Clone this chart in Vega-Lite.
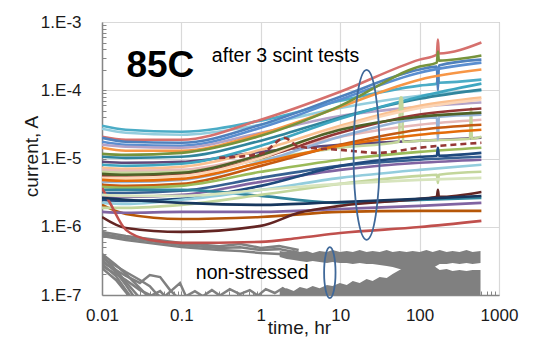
{
"$schema":"https://vega.github.io/schema/vega-lite/v6.json",
"width":397,"height":273,
"autosize":{"type":"none"},
"padding":{"left":102,"top":22,"right":39,"bottom":57},
"background":"white",
"config":{"font":"Liberation Sans","view":{"stroke":"#a6a6a6","strokeWidth":1},
"axis":{"labelFont":"Liberation Sans","titleFont":"Liberation Sans","labelColor":"#1a1a1a","titleColor":"#1a1a1a","labelFontSize":17,"titleFontSize":19,"titleFontWeight":"normal","gridColor":"#d9d9d9","gridWidth":1.2,"domainColor":"#868686","tickColor":"#868686"}},
"resolve":{"axis":{"x":"independent","y":"independent"}},
"datasets":{
"band":[
{"t":1.73,"ut":4.42e-7,"ub":3.6e-7,"lt":1.18e-7},
{"t":2.12,"ut":4.27e-7,"ub":3.37e-7,"lt":1.26e-7},
{"t":2.6,"ut":4.56e-7,"ub":3.25e-7,"lt":1.14e-7},
{"t":3.1,"ut":4.27e-7,"ub":3.15e-7,"lt":1.31e-7},
{"t":3.8,"ut":4.42e-7,"ub":3.04e-7,"lt":1.23e-7},
{"t":4.5,"ut":4.12e-7,"ub":3.15e-7,"lt":1.35e-7},
{"t":5.5,"ut":4.42e-7,"ub":3.04e-7,"lt":1.26e-7},
{"t":6.8,"ut":4.27e-7,"ub":2.94e-7,"lt":1.4e-7},
{"t":8.0,"ut":4.56e-7,"ub":3.04e-7,"lt":1.35e-7},
{"t":9.9,"ut":4.27e-7,"ub":2.94e-7,"lt":1.5e-7},
{"t":12.1,"ut":4.42e-7,"ub":2.94e-7,"lt":1.4e-7},
{"t":14.4,"ut":4.27e-7,"ub":2.84e-7,"lt":1.6e-7},
{"t":17.6,"ut":4.56e-7,"ub":2.94e-7,"lt":1.5e-7},
{"t":21.5,"ut":4.27e-7,"ub":2.84e-7,"lt":1.71e-7},
{"t":25.6,"ut":4.42e-7,"ub":2.84e-7,"lt":1.6e-7},
{"t":31.4,"ut":4.27e-7,"ub":2.75e-7,"lt":1.83e-7},
{"t":38.5,"ut":4.56e-7,"ub":2.66e-7,"lt":1.77e-7},
{"t":45.7,"ut":4.27e-7,"ub":2.57e-7,"lt":2.03e-7},
{"t":56,"ut":4.42e-7,"ub":2.4e-7,"lt":2.32e-7},
{"t":68.6,"ut":4.27e-7,"ub":2.32e-7,"lt":2.66e-7},
{"t":81.7,"ut":4.42e-7,"ub":2.32e-7,"lt":2.84e-7},
{"t":100,"ut":4.27e-7,"ub":2.32e-7,"lt":2.84e-7},
{"t":122,"ut":4.56e-7,"ub":2.4e-7,"lt":2.94e-7},
{"t":146,"ut":4.27e-7,"ub":2.48e-7,"lt":2.75e-7},
{"t":179,"ut":4.56e-7,"ub":2.84e-7,"lt":2.32e-7},
{"t":219,"ut":4.27e-7,"ub":2.84e-7,"lt":2.4e-7},
{"t":260,"ut":4.42e-7,"ub":2.94e-7,"lt":2.24e-7},
{"t":318,"ut":4.27e-7,"ub":2.84e-7,"lt":2.32e-7},
{"t":390,"ut":4.56e-7,"ub":2.94e-7,"lt":2.24e-7},
{"t":464,"ut":4.27e-7,"ub":2.84e-7,"lt":2.32e-7},
{"t":585,"ut":4.42e-7,"ub":2.94e-7,"lt":2.32e-7}
],
"gray":[
{"s":"g1","t":0.01,"v":8.4e-7},{"s":"g1","t":0.02,"v":7.3e-7},{"s":"g1","t":0.1,"v":5.8e-7},{"s":"g1","t":0.3,"v":5.2e-7},{"s":"g1","t":0.55,"v":5.6e-7},{"s":"g1","t":1,"v":4.9e-7},{"s":"g1","t":1.7,"v":5.2e-7},{"s":"g1","t":3,"v":4.56e-7},
{"s":"g2","t":0.01,"v":7.8e-7},{"s":"g2","t":0.02,"v":6.85e-7},{"s":"g2","t":0.1,"v":5.4e-7},{"s":"g2","t":0.3,"v":4.9e-7},{"s":"g2","t":0.55,"v":5.0e-7},{"s":"g2","t":1,"v":4.56e-7},{"s":"g2","t":1.7,"v":4.7e-7},{"s":"g2","t":3,"v":4.12e-7},
{"s":"g3","t":0.01,"v":7.3e-7},{"s":"g3","t":0.02,"v":6.4e-7},{"s":"g3","t":0.1,"v":5.05e-7},{"s":"g3","t":0.3,"v":4.56e-7},{"s":"g3","t":0.55,"v":4.4e-7},{"s":"g3","t":1,"v":4.12e-7},{"s":"g3","t":1.7,"v":4.0e-7},{"s":"g3","t":3,"v":3.48e-7},
{"s":"lg1","t":0.01,"v":4.0e-7},{"s":"lg1","t":0.015,"v":2.75e-7},{"s":"lg1","t":0.02,"v":2.03e-7},{"s":"lg1","t":0.03,"v":1.26e-7},{"s":"lg1","t":0.04,"v":9.0e-8},
{"s":"lg2","t":0.01,"v":3.73e-7},{"s":"lg2","t":0.015,"v":2.32e-7},{"s":"lg2","t":0.02,"v":1.55e-7},{"s":"lg2","t":0.03,"v":9.0e-8},
{"s":"lg3","t":0.01,"v":3.48e-7},{"s":"lg3","t":0.015,"v":2.66e-7},{"s":"lg3","t":0.02,"v":2.17e-7},{"s":"lg3","t":0.03,"v":1.66e-7},{"s":"lg3","t":0.04,"v":1.35e-7},{"s":"lg3","t":0.049,"v":1.03e-7},{"s":"lg3","t":0.062,"v":8.5e-8},
{"s":"lg4","t":0.01,"v":3.25e-7},{"s":"lg4","t":0.015,"v":2.17e-7},{"s":"lg4","t":0.02,"v":1.4e-7},{"s":"lg4","t":0.026,"v":9.0e-8},
{"s":"lg5","t":0.01,"v":3.04e-7},{"s":"lg5","t":0.015,"v":2.32e-7},{"s":"lg5","t":0.02,"v":1.9e-7},{"s":"lg5","t":0.03,"v":1.5e-7},{"s":"lg5","t":0.04,"v":1.96e-7},{"s":"lg5","t":0.054,"v":1.83e-7},{"s":"lg5","t":0.072,"v":1.18e-7},{"s":"lg5","t":0.096,"v":8.5e-8},
{"s":"lg6","t":0.01,"v":2.84e-7},{"s":"lg6","t":0.015,"v":1.9e-7},{"s":"lg6","t":0.02,"v":1.18e-7},{"s":"lg6","t":0.0245,"v":8.5e-8},
{"s":"lg7","t":0.01,"v":2.66e-7},{"s":"lg7","t":0.015,"v":2.03e-7},{"s":"lg7","t":0.02,"v":1.66e-7},{"s":"lg7","t":0.03,"v":1.18e-7},{"s":"lg7","t":0.049,"v":9.0e-8},
{"s":"lg8","t":0.01,"v":2.48e-7},{"s":"lg8","t":0.015,"v":1.66e-7},{"s":"lg8","t":0.02,"v":1.1e-7},{"s":"lg8","t":0.024,"v":8.5e-8},
{"s":"lg9","t":0.04,"v":9.6e-8},{"s":"lg9","t":0.054,"v":1.14e-7},{"s":"lg9","t":0.062,"v":9.6e-8},{"s":"lg9","t":0.076,"v":1.18e-7},{"s":"lg9","t":0.096,"v":1.5e-7},{"s":"lg9","t":0.114,"v":9.6e-8},{"s":"lg9","t":0.148,"v":1.14e-7},{"s":"lg9","t":0.186,"v":9.6e-8},{"s":"lg9","t":0.242,"v":1.18e-7},{"s":"lg9","t":0.305,"v":9.8e-8},{"s":"lg9","t":0.407,"v":1.22e-7},{"s":"lg9","t":0.545,"v":1.03e-7},{"s":"lg9","t":0.727,"v":1.18e-7},{"s":"lg9","t":0.917,"v":9.8e-8},{"s":"lg9","t":1.156,"v":1.22e-7},{"s":"lg9","t":1.5,"v":1.07e-7},{"s":"lg9","t":1.89,"v":1.26e-7},{"s":"lg9","t":2.45,"v":1.03e-7},{"s":"lg9","t":3.16,"v":1.22e-7}
],
"lines":[
{"s":"L1","t":0.01,"v":3.02e-5},{"s":"L1","t":0.02,"v":2.64e-5},{"s":"L1","t":0.1,"v":2.47e-5},{"s":"L1","t":1,"v":3.58e-5},{"s":"L1","t":10,"v":7.0e-5},{"s":"L1","t":100,"v":1.17e-4},{"s":"L1","t":165,"v":1.25e-4},{"s":"L1","t":170,"v":1.64e-4},{"s":"L1","t":175,"v":1.29e-4},{"s":"L1","t":600,"v":1.43e-4},
{"s":"L2","t":0.01,"v":2.73e-5},{"s":"L2","t":0.02,"v":2.38e-5},{"s":"L2","t":0.1,"v":2.23e-5},{"s":"L2","t":1,"v":3.13e-5},{"s":"L2","t":10,"v":5.5e-5},{"s":"L2","t":100,"v":8.3e-5},{"s":"L2","t":600,"v":9.87e-5},
{"s":"L3","t":0.01,"v":2.08e-5},{"s":"L3","t":0.02,"v":1.88e-5},{"s":"L3","t":0.1,"v":1.88e-5},{"s":"L3","t":1,"v":3.7e-5},{"s":"L3","t":10,"v":9.5e-5},{"s":"L3","t":100,"v":2.81e-4},{"s":"L3","t":165,"v":3.33e-4},{"s":"L3","t":170,"v":5.53e-4},{"s":"L3","t":175,"v":3.45e-4},{"s":"L3","t":600,"v":5.0e-4},
{"s":"L4","t":0.01,"v":2.01e-5},{"s":"L4","t":0.02,"v":1.76e-5},{"s":"L4","t":0.1,"v":1.7e-5},{"s":"L4","t":1,"v":3.13e-5},{"s":"L4","t":10,"v":8.05e-5},{"s":"L4","t":100,"v":2.01e-4},{"s":"L4","t":165,"v":2.22e-4},{"s":"L4","t":170,"v":1.0e-4},{"s":"L4","t":175,"v":2.3e-4},{"s":"L4","t":600,"v":2.81e-4},
{"s":"L5","t":0.01,"v":1.76e-5},{"s":"L5","t":0.02,"v":1.59e-5},{"s":"L5","t":0.1,"v":1.54e-5},{"s":"L5","t":1,"v":2.82e-5},{"s":"L5","t":10,"v":7.3e-5},{"s":"L5","t":100,"v":1.81e-4},{"s":"L5","t":600,"v":2.54e-4},
{"s":"L6","t":0.01,"v":1.59e-5},{"s":"L6","t":0.02,"v":1.49e-5},{"s":"L6","t":0.1,"v":1.44e-5},{"s":"L6","t":1,"v":2.38e-5},{"s":"L6","t":10,"v":4.2e-5},{"s":"L6","t":100,"v":5.7e-5},{"s":"L6","t":600,"v":6.6e-5},
{"s":"L7","t":0.01,"v":1.44e-5},{"s":"L7","t":0.02,"v":1.3e-5},{"s":"L7","t":0.1,"v":1.3e-5},{"s":"L7","t":1,"v":2.3e-5},{"s":"L7","t":10,"v":5.7e-5},{"s":"L7","t":100,"v":1.43e-4},{"s":"L7","t":600,"v":2.01e-4},
{"s":"L8","t":0.01,"v":1.17e-5},{"s":"L8","t":0.02,"v":1.13e-5},{"s":"L8","t":0.1,"v":1.21e-5},{"s":"L8","t":1,"v":2.15e-5},{"s":"L8","t":10,"v":5.9e-5},{"s":"L8","t":100,"v":2.22e-4},{"s":"L8","t":165,"v":2.54e-4},{"s":"L8","t":170,"v":3.69e-4},{"s":"L8","t":175,"v":2.72e-4},{"s":"L8","t":600,"v":3.22e-4},
{"s":"L9","t":0.01,"v":1.06e-5},{"s":"L9","t":0.02,"v":1.02e-5},{"s":"L9","t":0.1,"v":1.06e-5},{"s":"L9","t":1,"v":1.82e-5},{"s":"L9","t":10,"v":4.0e-5},{"s":"L9","t":100,"v":7.5e-5},{"s":"L9","t":600,"v":1.02e-4},
{"s":"L10","t":0.01,"v":8.95e-6},{"s":"L10","t":0.02,"v":8.65e-6},{"s":"L10","t":0.1,"v":8.95e-6},{"s":"L10","t":1,"v":1.25e-5},{"s":"L10","t":10,"v":1.59e-5},{"s":"L10","t":100,"v":1.82e-5},{"s":"L10","t":600,"v":2.01e-5},
{"s":"L11","t":0.01,"v":8.08e-6},{"s":"L11","t":0.02,"v":7.8e-6},{"s":"L11","t":0.1,"v":8.36e-6},{"s":"L11","t":1,"v":1.54e-5},{"s":"L11","t":10,"v":3.83e-5},{"s":"L11","t":100,"v":8.05e-5},{"s":"L11","t":600,"v":1.25e-4},
{"s":"L12","t":0.01,"v":7.3e-6},{"s":"L12","t":0.02,"v":7.06e-6},{"s":"L12","t":0.1,"v":7.55e-6},{"s":"L12","t":1,"v":1.34e-5},{"s":"L12","t":10,"v":3.02e-5},{"s":"L12","t":100,"v":5.9e-5},{"s":"L12","t":600,"v":7.8e-5},
{"s":"L13","t":0.01,"v":6.82e-6},{"s":"L13","t":0.02,"v":6.59e-6},{"s":"L13","t":0.1,"v":6.82e-6},{"s":"L13","t":1,"v":1.1e-5},{"s":"L13","t":10,"v":2.08e-5},{"s":"L13","t":100,"v":3.13e-5},{"s":"L13","t":600,"v":3.7e-5},
{"s":"L14","t":0.01,"v":6.38e-6},{"s":"L14","t":0.02,"v":6.17e-6},{"s":"L14","t":0.1,"v":6.38e-6},{"s":"L14","t":1,"v":9.6e-6},{"s":"L14","t":10,"v":1.44e-5},{"s":"L14","t":55,"v":1.76e-5},{"s":"L14","t":57,"v":7.8e-5},{"s":"L14","t":60,"v":7.8e-5},{"s":"L14","t":62,"v":1.76e-5},{"s":"L14","t":100,"v":1.82e-5},{"s":"L14","t":430,"v":1.95e-5},{"s":"L14","t":445,"v":5.5e-5},{"s":"L14","t":455,"v":1.95e-5},{"s":"L14","t":600,"v":2.08e-5},
{"s":"L15","t":0.01,"v":5.57e-6},{"s":"L15","t":0.02,"v":5.38e-6},{"s":"L15","t":0.1,"v":5.77e-6},{"s":"L15","t":1,"v":1.02e-5},{"s":"L15","t":10,"v":2.38e-5},{"s":"L15","t":100,"v":4.4e-5},{"s":"L15","t":600,"v":5.4e-5},
{"s":"L16","t":0.01,"v":5.2e-6},{"s":"L16","t":0.02,"v":5.2e-6},{"s":"L16","t":0.1,"v":5.57e-6},{"s":"L16","t":1,"v":1.02e-5},{"s":"L16","t":10,"v":2.82e-5},{"s":"L16","t":100,"v":5.5e-5},{"s":"L16","t":600,"v":7.3e-5},
{"s":"L17","t":0.01,"v":4.55e-6},{"s":"L17","t":0.02,"v":4.55e-6},{"s":"L17","t":0.1,"v":4.86e-6},{"s":"L17","t":1,"v":8.95e-6},{"s":"L17","t":10,"v":2.08e-5},{"s":"L17","t":100,"v":3.83e-5},{"s":"L17","t":165,"v":4.0e-5},{"s":"L17","t":170,"v":1.88e-5},{"s":"L17","t":175,"v":4.1e-5},{"s":"L17","t":600,"v":4.4e-5},
{"s":"L18","t":0.01,"v":4.11e-6},{"s":"L18","t":0.02,"v":3.97e-6},{"s":"L18","t":0.1,"v":4.25e-6},{"s":"L18","t":1,"v":7.8e-6},{"s":"L18","t":10,"v":1.59e-5},{"s":"L18","t":100,"v":2.64e-5},{"s":"L18","t":600,"v":3.13e-5},
{"s":"L19","t":0.01,"v":3.84e-6},{"s":"L19","t":0.02,"v":3.71e-6},{"s":"L19","t":0.1,"v":3.97e-6},{"s":"L19","t":1,"v":6.38e-6},{"s":"L19","t":10,"v":9.6e-6},{"s":"L19","t":100,"v":1.25e-5},{"s":"L19","t":600,"v":1.44e-5},
{"s":"L20","t":0.01,"v":5.96e-6},{"s":"L20","t":0.02,"v":5.77e-6},{"s":"L20","t":0.1,"v":6.17e-6},{"s":"L20","t":1,"v":1.13e-5},{"s":"L20","t":10,"v":2.64e-5},{"s":"L20","t":100,"v":4.1e-5},{"s":"L20","t":600,"v":4.7e-5},
{"s":"L21","t":0.01,"v":3.13e-6},{"s":"L21","t":0.02,"v":3.13e-6},{"s":"L21","t":0.1,"v":3.36e-6},{"s":"L21","t":1,"v":5.2e-6},{"s":"L21","t":10,"v":7.8e-6},{"s":"L21","t":100,"v":9.6e-6},{"s":"L21","t":600,"v":1.06e-5},
{"s":"L22","t":0.01,"v":2.74e-6},{"s":"L22","t":0.02,"v":2.74e-6},{"s":"L22","t":0.1,"v":2.93e-6},{"s":"L22","t":1,"v":4.55e-6},{"s":"L22","t":10,"v":6.82e-6},{"s":"L22","t":100,"v":8.65e-6},{"s":"L22","t":600,"v":9.6e-6},
{"s":"L23","t":0.01,"v":2.48e-6},{"s":"L23","t":0.02,"v":2.39e-6},{"s":"L23","t":0.1,"v":2.56e-6},{"s":"L23","t":1,"v":3.97e-6},{"s":"L23","t":10,"v":7.8e-6},{"s":"L23","t":100,"v":1.06e-5},{"s":"L23","t":165,"v":1.1e-5},{"s":"L23","t":170,"v":1.44e-5},{"s":"L23","t":175,"v":1.1e-5},{"s":"L23","t":600,"v":1.21e-5},
{"s":"L24","t":0.01,"v":3.47e-6},{"s":"L24","t":0.02,"v":3.47e-6},{"s":"L24","t":0.1,"v":3.47e-6},{"s":"L24","t":1,"v":2.83e-6},{"s":"L24","t":10,"v":2.24e-6},{"s":"L24","t":100,"v":2.48e-6},{"s":"L24","t":600,"v":2.65e-6},
{"s":"L25","t":0.01,"v":2.24e-6},{"s":"L25","t":0.02,"v":2.16e-6},{"s":"L25","t":0.1,"v":2.48e-6},{"s":"L25","t":1,"v":3.47e-6},{"s":"L25","t":10,"v":5.2e-6},{"s":"L25","t":100,"v":6.82e-6},{"s":"L25","t":600,"v":8.08e-6},
{"s":"L26","t":0.01,"v":2.09e-6},{"s":"L26","t":0.02,"v":1.54e-6},{"s":"L26","t":0.1,"v":1.3e-6},{"s":"L26","t":1,"v":1.39e-6},{"s":"L26","t":10,"v":1.65e-6},{"s":"L26","t":100,"v":1.71e-6},{"s":"L26","t":600,"v":1.71e-6},
{"s":"L27","t":0.01,"v":1.89e-6},{"s":"L27","t":0.02,"v":1.89e-6},{"s":"L27","t":0.1,"v":2.09e-6},{"s":"L27","t":1,"v":2.93e-6},{"s":"L27","t":10,"v":4.25e-6},{"s":"L27","t":100,"v":5.57e-6},{"s":"L27","t":165,"v":5.77e-6},{"s":"L27","t":170,"v":4.4e-6},{"s":"L27","t":175,"v":5.77e-6},{"s":"L27","t":600,"v":6.38e-6},
{"s":"L28","t":0.01,"v":1.65e-6},{"s":"L28","t":0.02,"v":1.6e-6},{"s":"L28","t":0.1,"v":1.65e-6},{"s":"L28","t":1,"v":1.65e-6},{"s":"L28","t":10,"v":1.82e-6},{"s":"L28","t":100,"v":2.02e-6},{"s":"L28","t":600,"v":2.24e-6},
{"s":"L29","t":0.01,"v":1.39e-6},{"s":"L29","t":0.02,"v":9.6e-7},{"s":"L29","t":0.1,"v":8.4e-7},{"s":"L29","t":1,"v":1.03e-6},{"s":"L29","t":3,"v":1.6e-6},{"s":"L29","t":10,"v":2.02e-6},{"s":"L29","t":100,"v":2.56e-6},{"s":"L29","t":165,"v":2.74e-6},{"s":"L29","t":170,"v":3.47e-6},{"s":"L29","t":175,"v":2.74e-6},{"s":"L29","t":600,"v":3.24e-6},
{"s":"L30","t":0.01,"v":3.71e-6},{"s":"L30","t":0.013,"v":2.09e-6},{"s":"L30","t":0.02,"v":9.0e-7},{"s":"L30","t":0.04,"v":6.4e-7},{"s":"L30","t":0.1,"v":5.8e-7},{"s":"L30","t":1,"v":6.0e-7},{"s":"L30","t":3,"v":6.85e-7},{"s":"L30","t":10,"v":8.1e-7},{"s":"L30","t":100,"v":9.9e-7},{"s":"L30","t":600,"v":1.22e-6},
{"s":"L31","t":0.01,"v":2.65e-6},{"s":"L31","t":0.02,"v":2.48e-6},{"s":"L31","t":0.1,"v":2.24e-6},{"s":"L31","t":1,"v":2.09e-6},{"s":"L31","t":10,"v":2.31e-6},{"s":"L31","t":100,"v":2.56e-6},{"s":"L31","t":600,"v":2.83e-6},
{"s":"L32","t":0.01,"v":2.93e-6},{"s":"L32","t":0.02,"v":2.83e-6},{"s":"L32","t":0.1,"v":2.83e-6},{"s":"L32","t":1,"v":3.47e-6},{"s":"L32","t":10,"v":4.25e-6},{"s":"L32","t":100,"v":4.86e-6},{"s":"L32","t":600,"v":5.2e-6},
{"s":"L34","t":0.01,"v":4.86e-6},{"s":"L34","t":0.02,"v":4.71e-6},{"s":"L34","t":0.1,"v":5.03e-6},{"s":"L34","t":1,"v":8.65e-6},{"s":"L34","t":10,"v":1.54e-5},{"s":"L34","t":100,"v":2.23e-5},{"s":"L34","t":600,"v":2.64e-5}
],
"dashed":[
{"s":"L33","t":0.3,"v":1.02e-5},{"s":"L33","t":1,"v":1.17e-5},{"s":"L33","t":2,"v":2.0e-5},{"s":"L33","t":3,"v":1.49e-5},{"s":"L33","t":10,"v":1.34e-5},{"s":"L33","t":30,"v":1.21e-5},{"s":"L33","t":100,"v":1.44e-5},{"s":"L33","t":600,"v":1.7e-5}
]
},
"layer":[
{"data":{"name":"band"},"mark":{"type":"area","color":"#808080","clip":true},
 "encoding":{"x":{"field":"t","type":"quantitative","scale":{"type":"log","domain":[0.01,1000]},"axis":null},
  "y":{"field":"ut","type":"quantitative","scale":{"type":"log","domain":[1e-7,1e-3]},"axis":null},
  "y2":{"field":"ub"}}},
{"data":{"name":"band"},"mark":{"type":"area","color":"#808080","clip":true},
 "encoding":{"x":{"field":"t","type":"quantitative","scale":{"type":"log","domain":[0.01,1000]},"axis":null},
  "y":{"field":"lt","type":"quantitative","scale":{"type":"log","domain":[1e-7,1e-3]},"axis":null},
  "y2":{"datum":9e-8}}},
{"data":{"name":"gray"},"mark":{"type":"line","color":"#808080","strokeWidth":2.5,"clip":true},
 "encoding":{"x":{"field":"t","type":"quantitative","scale":{"type":"log","domain":[0.01,1000]},
   "axis":{"orient":"bottom","values":[0.02,0.03,0.04,0.05,0.06,0.07,0.08,0.09,0.1,0.2,0.3,0.4,0.5,0.6,0.7,0.8,0.9,1,2,3,4,5,6,7,8,9,10,20,30,40,50,60,70,80,90,100,200,300,400,500,600,700,800,900],"labels":false,"grid":false,"domain":false,"ticks":true,"tickSize":-4,"title":null}},
  "y":{"field":"v","type":"quantitative","scale":{"type":"log","domain":[1e-7,1e-3]},
   "axis":{"orient":"left","values":[2e-7,3e-7,4e-7,5e-7,6e-7,7e-7,8e-7,9e-7,1e-6,2e-6,3e-6,4e-6,5e-6,6e-6,7e-6,8e-6,9e-6,1e-5,2e-5,3e-5,4e-5,5e-5,6e-5,7e-5,8e-5,9e-5,1e-4,2e-4,3e-4,4e-4,5e-4,6e-4,7e-4,8e-4,9e-4],"labels":false,"grid":false,"domain":false,"ticks":true,"tickSize":-4,"title":null}},
  "detail":{"field":"s"}}},
{"data":{"name":"lines"},"mark":{"type":"line","strokeWidth":2.6,"interpolate":"monotone","clip":true},
 "encoding":{"x":{"field":"t","type":"quantitative","scale":{"type":"log","domain":[0.01,1000]},
   "axis":{"orient":"bottom","values":[0.01,0.1,1,10,100,1000],"format":"~g","grid":true,"ticks":false,"labelPadding":12,"labelFlush":false,"labelOverlap":false,"domainWidth":1.5,"title":"time, hr","titleX":197,"titleY":38,"titleBaseline":"alphabetic"}},
  "y":{"field":"v","type":"quantitative","scale":{"type":"log","domain":[1e-7,1e-3]},
   "axis":{"orient":"left","values":[1e-7,1e-6,1e-5,1e-4,1e-3],"labelExpr":"'1.E-' + round(-log(datum.value)/LN10)","grid":true,"ticks":false,"labelPadding":21,"labelFlush":false,"labelOverlap":false,"domainWidth":1.5,"title":"current, A","titleX":-65,"titleY":134,"titleBaseline":"alphabetic"}},
  "color":{"field":"s","type":"nominal","legend":null,"sort":null,
   "scale":{"domain":["L1","L2","L3","L4","L5","L6","L7","L8","L9","L10","L11","L12","L13","L14","L15","L16","L17","L18","L19","L20","L21","L22","L23","L24","L25","L26","L27","L28","L29","L30","L31","L32","L34"],
   "range":["#4bacc6","#93cddd","#d6706d","#4f81bd","#5a8ed0","#b3a2c7","#f79646","#77933c","#31859c","#5f497a","#3ea6c0","#fac090","#e6b9b8","#c3d69b","#953735","#fcd5b5","#95b3d7","#c55a11","#9bbb59","#4f6228","#376092","#8064a2","#1f497d","#31859c","#93cddd","#b65708","#c3d69b","#8064a2","#632523","#c0504d","#17375e","#d7e4bd","#e46c0a"]}}}},
{"data":{"name":"dashed"},"mark":{"type":"line","strokeWidth":2.6,"color":"#953735","strokeDash":[6,4],"interpolate":"monotone","clip":true},
 "encoding":{"x":{"field":"t","type":"quantitative","scale":{"type":"log","domain":[0.01,1000]},"axis":null},
  "y":{"field":"v","type":"quantitative","scale":{"type":"log","domain":[1e-7,1e-3]},"axis":null}}},
{"data":{"values":[{"label":"85C","t":0.0203,"v":1.58e-4}]},"mark":{"type":"text","font":"Liberation Sans","fontSize":37,"fontWeight":"bold","align":"left","baseline":"alphabetic","color":"#000000"},
 "encoding":{"x":{"field":"t","type":"quantitative","scale":{"type":"log","domain":[0.01,1000]},"axis":null},
  "y":{"field":"v","type":"quantitative","scale":{"type":"log","domain":[1e-7,1e-3]},"axis":null},"text":{"field":"label"}}},
{"data":{"values":[{"label":"after 3 scint tests","t":0.242,"v":2.63e-4},{"label":"non-stressed","t":0.152,"v":1.71e-7}]},"mark":{"type":"text","font":"Liberation Sans","fontSize":19.5,"align":"left","baseline":"alphabetic","color":"#000000"},
 "encoding":{"x":{"field":"t","type":"quantitative","scale":{"type":"log","domain":[0.01,1000]},"axis":null},
  "y":{"field":"v","type":"quantitative","scale":{"type":"log","domain":[1e-7,1e-3]},"axis":null},"text":{"field":"label"}}},
{"data":{"values":[{"t":21.5,"v":1.13e-5}]},"mark":{"type":"point","shape":"M 0 -1 C 0.0845 -1 0.153 -0.5523 0.153 0 C 0.153 0.5523 0.0845 1 0 1 C -0.0845 1 -0.153 0.5523 -0.153 0 C -0.153 -0.5523 -0.0845 -1 0 -1 Z","size":28900,"filled":false,"color":"#3f6899","strokeWidth":1.8,"opacity":1},
 "encoding":{"x":{"field":"t","type":"quantitative","scale":{"type":"log","domain":[0.01,1000]},"axis":null},
  "y":{"field":"v","type":"quantitative","scale":{"type":"log","domain":[1e-7,1e-3]},"axis":null}}},
{"data":{"values":[{"t":7.4,"v":2.13e-7}]},"mark":{"type":"point","shape":"M 0 -1 C 0.1237 -1 0.224 -0.5523 0.224 0 C 0.224 0.5523 0.1237 1 0 1 C -0.1237 1 -0.224 0.5523 -0.224 0 C -0.224 -0.5523 -0.1237 -1 0 -1 Z","size":2601,"filled":false,"color":"#3f6899","strokeWidth":1.8,"opacity":1},
 "encoding":{"x":{"field":"t","type":"quantitative","scale":{"type":"log","domain":[0.01,1000]},"axis":null},
  "y":{"field":"v","type":"quantitative","scale":{"type":"log","domain":[1e-7,1e-3]},"axis":null}}}
]
}
